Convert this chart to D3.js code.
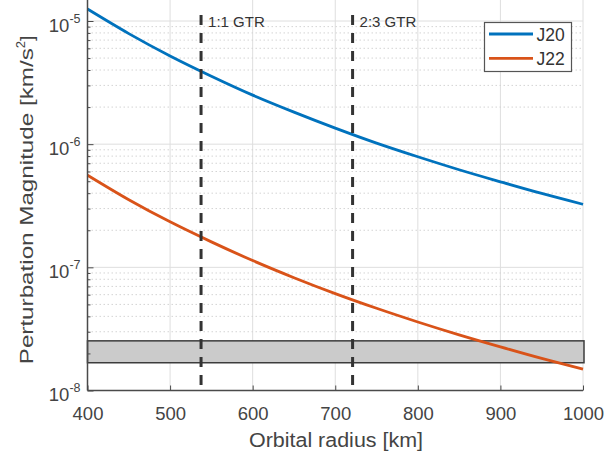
<!DOCTYPE html>
<html>
<head>
<meta charset="utf-8">
<script src="https://cdn.jsdelivr.net/npm/d3@7"></script>
<style>
  html, body { margin: 0; padding: 0; background: #fff; }
  svg { display: block; }
  text { font-family: "Liberation Sans", Arial, Helvetica, sans-serif; }
</style>
</head>
<body>
<svg id="chart" width="612" height="456"></svg>
<script>
// ---- data ----
const radius = [400, 450, 500, 550, 600, 650, 700, 750, 800, 850, 900, 950, 1000];
const j20 = [1.25e-5, 7.9e-6, 5.2e-6, 3.56e-6, 2.5e-6, 1.82e-6, 1.35e-6, 1.02e-6, 7.9e-7, 6.2e-7, 4.95e-7, 3.98e-7, 3.25e-7];
const j22 = [5.6e-7, 3.54e-7, 2.34e-7, 1.61e-7, 1.135e-7, 8.24e-8, 6.12e-8, 4.65e-8, 3.6e-8, 2.83e-8, 2.26e-8, 1.82e-8, 1.49e-8];
const seriesNames = ["J20", "J22"];
const seriesColors = ["#0072BD", "#D95319"];
const gtrRadius = [537.5, 721];
const gtrLabels = ["1:1 GTR", "2:3 GTR"];
const bandLow = 1.68e-8;
const bandHigh = 2.53e-8;
const xTicks = [400, 500, 600, 700, 800, 900, 1000];
const yMajorExp = [-8, -7, -6, -5];
const xTitle = "Orbital radius [km]";
const yTitle = "Perturbation Magnitude [km/s";

// ---- layout ----
const svg = d3.select("#chart");
const L = 87.5, R = 583, T = 0, B = 390.5;
const x = d3.scaleLinear().domain([400, 1000]).range([L, R]);
const y = d3.scaleLog().domain([1e-8, 1e-5]).range([B, 21]);
const topVal = y.invert(T);

const gridColor = "#dedede";
const axisColor = "#4a4a4a";
const textColor = "#444";

// minor tick values
const yMinor = [];
for (let e = -8; e <= -5; e++) {
  for (let k = 2; k <= 9; k++) {
    const v = k * Math.pow(10, e);
    if (v < topVal) yMinor.push(v);
  }
}
const yMajor = yMajorExp.map(e => Math.pow(10, e));

// ---- grid ----
const grid = svg.append("g");
grid.selectAll("line.vg").data(xTicks).join("line")
  .attr("x1", d => x(d)).attr("x2", d => x(d))
  .attr("y1", T).attr("y2", B)
  .attr("stroke", gridColor).attr("stroke-width", 1);
grid.selectAll("line.hm").data(yMinor).join("line")
  .attr("x1", L).attr("x2", R)
  .attr("y1", d => y(d)).attr("y2", d => y(d))
  .attr("stroke", "#d4d4d4").attr("stroke-width", 1)
  .attr("stroke-dasharray", "1.5,2.5");
grid.selectAll("line.hM").data(yMajor).join("line")
  .attr("x1", L).attr("x2", R)
  .attr("y1", d => y(d)).attr("y2", d => y(d))
  .attr("stroke", gridColor).attr("stroke-width", 1);

// ---- band ----
svg.append("rect")
  .attr("x", x(400)).attr("width", x(1000) - x(400) + 1)
  .attr("y", y(bandHigh)).attr("height", y(bandLow) - y(bandHigh))
  .attr("fill", "#cbcbcb").attr("stroke", "#3c3c3c").attr("stroke-width", 1.5);

// ---- series ----
const line = d3.line().x((d, i) => x(radius[i])).y(d => y(d)).curve(d3.curveMonotoneX);
[j20, j22].forEach((s, i) => {
  svg.append("path").datum(s)
    .attr("d", line)
    .attr("fill", "none")
    .attr("stroke", seriesColors[i])
    .attr("stroke-width", 2.8);
});

// ---- GTR dashed lines ----
gtrRadius.forEach((r, i) => {
  svg.append("line")
    .attr("x1", x(r)).attr("x2", x(r))
    .attr("y1", 15).attr("y2", B)
    .attr("stroke", "#333").attr("stroke-width", 3)
    .attr("stroke-dasharray", "10,8");
  svg.append("text")
    .attr("x", x(r) + 7).attr("y", 27)
    .attr("font-size", 15).attr("fill", "#333")
    .text(gtrLabels[i]);
});

// ---- axes ----
const xAxis = d3.axisBottom(x).tickValues(xTicks).tickSize(-5).tickPadding(16).tickFormat(d3.format("d"));
const gx = svg.append("g").attr("transform", `translate(0,${B})`).call(xAxis);
gx.select(".domain").remove();
gx.selectAll(".tick line").attr("stroke", axisColor);
gx.selectAll(".tick text").attr("font-size", 18.5).attr("fill", textColor)
  .attr("font-family", "Liberation Sans, Arial, sans-serif");

const yAxisMinor = d3.axisLeft(y).tickValues(yMinor).tickSize(-3).tickFormat("");
const gym = svg.append("g").attr("transform", `translate(${L},0)`).call(yAxisMinor);
gym.select(".domain").remove();
gym.selectAll(".tick line").attr("stroke", axisColor);

const yAxisMajor = d3.axisLeft(y).tickValues(yMajor).tickSize(-6).tickFormat("");
const gy = svg.append("g").attr("transform", `translate(${L},0)`).call(yAxisMajor);
gy.select(".domain").remove();
gy.selectAll(".tick line").attr("stroke", axisColor);
gy.selectAll(".tick").each(function(d, i) {
  const t = d3.select(this).append("text")
    .attr("x", -7).attr("y", 10)
    .attr("text-anchor", "end")
    .attr("fill", textColor)
    .attr("font-size", 18.5);
  t.append("tspan").text("10");
  t.append("tspan").attr("dy", -9).attr("font-size", 12.5).text(String(yMajorExp[i]));
});

// axis lines
svg.append("line").attr("x1", L).attr("x2", L).attr("y1", T).attr("y2", B)
  .attr("stroke", axisColor).attr("stroke-width", 1.5);
svg.append("line").attr("x1", L).attr("x2", R).attr("y1", B).attr("y2", B)
  .attr("stroke", axisColor).attr("stroke-width", 1.5);

// ---- titles ----
svg.append("text")
  .attr("x", 336).attr("y", 446.5)
  .attr("text-anchor", "middle").attr("font-size", 19.5).attr("fill", textColor)
  .attr("textLength", 174).attr("lengthAdjust", "spacingAndGlyphs")
  .text(xTitle);

const yt = svg.append("text")
  .attr("transform", `translate(33,200) rotate(-90)`)
  .attr("text-anchor", "middle").attr("font-size", 19).attr("fill", textColor);
yt.append("tspan").attr("textLength", 316).attr("lengthAdjust", "spacingAndGlyphs").text(yTitle);
yt.append("tspan").attr("dy", -8).attr("font-size", 13).text("2");
yt.append("tspan").attr("dy", 8).text("]");

// ---- legend ----
const lg = svg.append("g");
lg.append("rect").attr("x", 484.5).attr("y", 22.5).attr("width", 87).attr("height", 49)
  .attr("fill", "#fff").attr("stroke", "#555").attr("stroke-width", 1.2);
seriesNames.forEach((n, i) => {
  const yy = 34 + i * 24.3;
  lg.append("line").attr("x1", 489).attr("x2", 533).attr("y1", yy).attr("y2", yy)
    .attr("stroke", seriesColors[i]).attr("stroke-width", 2.8);
  lg.append("text").attr("x", 536.5).attr("y", yy + 7)
    .attr("font-size", 17.5).attr("fill", "#333").text(n);
});
</script>
</body>
</html>
